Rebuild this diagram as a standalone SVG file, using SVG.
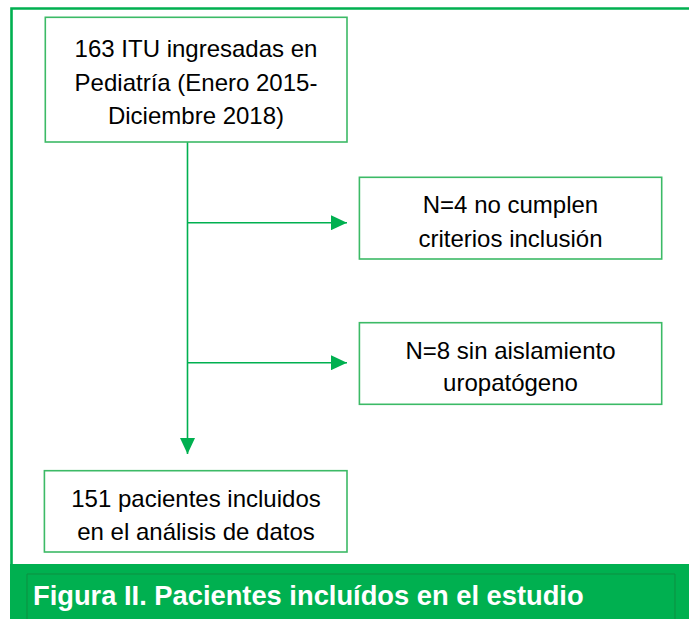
<svg xmlns="http://www.w3.org/2000/svg" width="689" height="619" viewBox="0 0 689 619">
<style>
.box{fill:#fff;stroke:#3cba66;stroke-width:1.6}
.t{font-family:"Liberation Sans",Arial,sans-serif;font-size:24px;fill:#000;text-anchor:middle}
.cap{font-family:"Liberation Sans",Arial,sans-serif;font-size:27.3px;font-weight:bold;fill:#fff}
.ln{stroke:#00b050;stroke-width:1.6;fill:none}
</style>
<defs>
<marker id="ahb" viewBox="0 0 16 15" refX="16" refY="7.5" markerWidth="16" markerHeight="15" markerUnits="userSpaceOnUse" orient="auto">
<path d="M0,0 L16,7.5 L0,15 Z" fill="#00b050"/>
</marker>
</defs>
<rect width="689" height="619" fill="#fff"/>
<g id="frame">
<path d="M11.5,573 V8.5 H689" fill="none" stroke="#00b050" stroke-width="2.6"/>
</g>
<g id="caption">
<rect x="10" y="564" width="679" height="55" fill="#00b050"/>
<path d="M27,625 V574 H675 V625" fill="none" stroke="#0c8f40" stroke-width="1"/>
<text class="cap" x="33" y="605">Figura II. Pacientes incluídos en el estudio</text>
</g>
<g id="connectors">
<path class="ln" d="M187.5,142 V454" marker-end="url(#ahb)"/>
<path class="ln" d="M187.5,222.7 H347" marker-end="url(#ahb)"/>
<path class="ln" d="M187.5,362.7 H347" marker-end="url(#ahb)"/>
</g>
<g id="n1">
<rect class="box" x="45.3" y="17.3" width="301.7" height="124.7"/>
<text class="t" x="196" y="57">163 ITU ingresadas en</text>
<text class="t" x="196" y="90.5">Pediatría (Enero 2015-</text>
<text class="t" x="196" y="124">Diciembre 2018)</text>
</g>
<g id="n2">
<rect class="box" x="359.4" y="177.3" width="302.3" height="81.7"/>
<text class="t" x="510.5" y="213.3">N=4 no cumplen</text>
<text class="t" x="510.5" y="246.7">criterios inclusión</text>
</g>
<g id="n3">
<rect class="box" x="359.4" y="322.7" width="302.3" height="81.6"/>
<text class="t" x="510.5" y="358.5">N=8 sin aislamiento</text>
<text class="t" x="510.5" y="391">uropatógeno</text>
</g>
<g id="n4">
<rect class="box" x="44.4" y="470.7" width="302.6" height="81.3"/>
<text class="t" x="196" y="507">151 pacientes incluidos</text>
<text class="t" x="196" y="540">en el análisis de datos</text>
</g>
</svg>
